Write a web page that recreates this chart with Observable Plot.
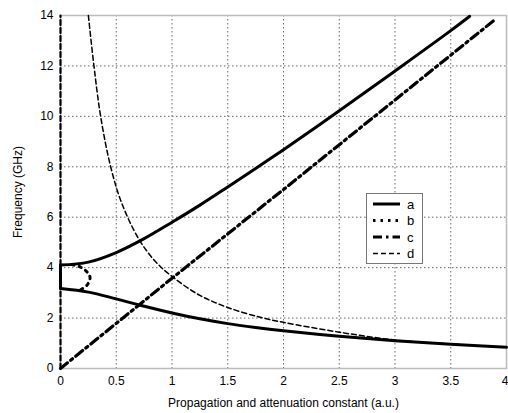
<!DOCTYPE html>
<html>
<head>
<meta charset="utf-8">
<script src="https://cdn.jsdelivr.net/npm/d3@7"></script>
<script src="https://cdn.jsdelivr.net/npm/@observablehq/plot@0.6"></script>
<style>
  body { margin: 0; background: #fff; }
  #wrap { position: relative; width: 508px; height: 413px; font-family: "Liberation Sans", Arial, sans-serif; }
  #legend { position: absolute; left: 366px; top: 193px; }
</style>
</head>
<body>
<div id="wrap"></div>
<script>
// Curve a (solid): lower branch, vertical joint at x = 0, upper branch
const aLowX = [0, 0.25, 0.5, 0.75, 1, 1.25, 1.5, 1.75, 2, 2.5, 3, 3.5, 4];
const aLowY = [3.17, 3.03, 2.76, 2.47, 2.2, 1.97, 1.78, 1.63, 1.5, 1.28, 1.1, 0.96, 0.84];
const aUpX = [0, 0.25, 0.5, 0.75, 1, 1.25, 1.5, 1.75, 2, 2.5, 3, 3.5, 3.67];
const aUpY = [4.1, 4.22, 4.6, 5.15, 5.8, 6.48, 7.2, 7.93, 8.68, 10.22, 11.8, 13.4, 13.97];
// Curve b (dotted): loop joining the two branches near x = 0.2
const bX = [0.1, 0.18, 0.24, 0.265, 0.24, 0.18];
const bY = [4.12, 4.02, 3.82, 3.6, 3.32, 3.12];
// Curve c (dash-dot): straight line
const cX = [0, 1, 2, 3, 3.9];
const cY = [0, 3.58, 7.1, 10.65, 13.85];
// Curve d (dashed)
const dX = [0.25, 0.3, 0.36, 0.45, 0.55, 0.7, 0.85, 1.0, 1.25, 1.5, 1.8, 2.0, 2.5, 3.0, 3.5, 4.0];
const dY = [14, 12, 10, 8, 6.55, 5.15, 4.25, 3.65, 2.9, 2.42, 2.02, 1.83, 1.44, 1.13, 0.97, 0.84];
// Dashed trace along x = 0 (two pieces)
const eX = [0, 0, 0, 0];
const eY = [0, 3.17, 4.1, 14];
const eSeg = [1, 1, 2, 2];

const xTicks = [0, 0.5, 1, 1.5, 2, 2.5, 3, 3.5, 4];
const yTicks = [0, 2, 4, 6, 8, 10, 12, 14];
const legendLabels = ["a", "b", "c", "d"];

const pts = (xs, ys, s) => xs.map((x, i) => ({x, y: ys[i], s}));
const A = [
  ...pts(aLowX, aLowY, "low"),
  ...pts([0, 0], [aLowY[0], aUpY[0]], "joint"),
  ...pts(aUpX, aUpY, "up")
];
const B = pts(bX, bY, "b"), C = pts(cX, cY, "c"), D = pts(dX, dY, "d");
const E = eX.map((x, i) => ({x, y: eY[i], s: eSeg[i]}));

const styles = [
  {w: 3, dash: null},
  {w: 3, dash: "2.5,5"},
  {w: 3.2, dash: "9,4,2.5,4"},
  {w: 1.5, dash: "5,3"}
];

const lastTick = xTicks[xTicks.length - 1];

const chart = Plot.plot({
  width: 508,
  height: 413,
  marginLeft: 60,
  marginRight: 2,
  marginTop: 15,
  marginBottom: 45,
  style: {fontFamily: "Liberation Sans, Arial, sans-serif", fontSize: "12px", color: "#000", background: "#fff"},
  x: {domain: [0, 4], label: "Propagation and attenuation constant (a.u.)", labelAnchor: "center", labelArrow: "none"},
  y: {domain: [0, 14], ticks: yTicks, tickSize: 0, tickPadding: 7, label: "Frequency (GHz)", labelAnchor: "center", labelArrow: "none", labelOffset: 47},
  marks: [
    Plot.gridX(xTicks, {stroke: "#666", strokeOpacity: 1, strokeWidth: 1, strokeDasharray: "1.5,2.5"}),
    Plot.gridY(yTicks, {stroke: "#666", strokeOpacity: 1, strokeWidth: 1, strokeDasharray: "1.5,2.5"}),
    Plot.axisX(xTicks.slice(0, -1), {tickSize: 0, tickPadding: 8, tickFormat: d => String(d), label: "Propagation and attenuation constant (a.u.)", labelAnchor: "center", labelArrow: "none", labelOffset: 38}),
    Plot.text([lastTick], {x: d => d, frameAnchor: "bottom", dy: 8, lineAnchor: "top", textAnchor: "end", dx: 2, text: d => String(d), fontSize: 12}),
    Plot.frame({stroke: "#bbb", strokeWidth: 1.5}),
    Plot.line(E, {x: "x", y: "y", z: "s", stroke: "#000", strokeWidth: 2.2, strokeDasharray: "5,3"}),
    Plot.line(D, {x: "x", y: "y", stroke: "#000", strokeWidth: styles[3].w, strokeDasharray: styles[3].dash, curve: "catmull-rom"}),
    Plot.line(C, {x: "x", y: "y", stroke: "#000", strokeWidth: styles[2].w, strokeDasharray: styles[2].dash}),
    Plot.line(B, {x: "x", y: "y", stroke: "#000", strokeWidth: styles[1].w, strokeDasharray: styles[1].dash, strokeLinecap: "round", curve: "catmull-rom"}),
    Plot.line(A, {x: "x", y: "y", z: "s", stroke: "#000", strokeWidth: styles[0].w, curve: "catmull-rom"})
  ]
});
document.getElementById("wrap").appendChild(chart);

// Legend box
const lg = d3.select("#wrap").append("div").attr("id", "legend")
  .append("svg").attr("width", 57).attr("height", 71);
lg.append("rect").attr("x", 0.5).attr("y", 0.5).attr("width", 56).attr("height", 70)
  .attr("fill", "#fff").attr("stroke", "#777").attr("stroke-width", 1);
legendLabels.forEach((lab, i) => {
  const yy = 11 + i * 16.5;
  lg.append("line").attr("x1", 7).attr("x2", 34).attr("y1", yy).attr("y2", yy)
    .attr("stroke", "#000").attr("stroke-width", styles[i].w)
    .attr("stroke-dasharray", styles[i].dash);
  lg.append("text").attr("x", 41).attr("y", yy + 4.5).text(lab)
    .attr("font-family", "Liberation Sans, Arial, sans-serif").attr("font-size", 13).attr("fill", "#000");
});
</script>
</body>
</html>
